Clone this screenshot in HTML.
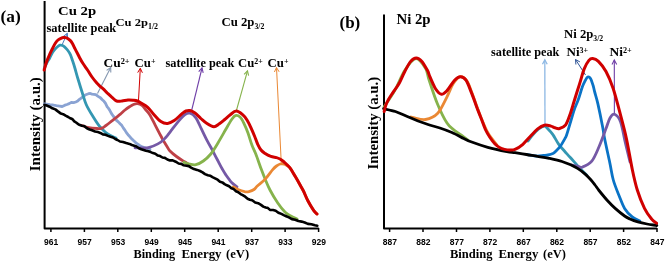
<!DOCTYPE html>
<html><head><meta charset="utf-8"><style>
html,body{margin:0;padding:0;background:#fff;width:668px;height:264px;overflow:hidden}
svg{display:block;filter:blur(0.45px)}
</style></head><body>
<svg width="668" height="264" viewBox="0 0 668 264">
<rect width="668" height="264" fill="#fff"/>
<text x="0.50" y="21.60" font-family='"Liberation Serif", serif' font-weight="bold" font-size="17" textLength="20.23" lengthAdjust="spacingAndGlyphs">(a)</text>
<text x="58.00" y="14.50" font-family='"Liberation Serif", serif' font-weight="bold" font-size="13.5" textLength="38.09" lengthAdjust="spacingAndGlyphs">Cu 2p</text>
<text x="46.50" y="31.60" font-family='"Liberation Serif", serif' font-weight="bold" font-size="12.8" textLength="69.65" lengthAdjust="spacingAndGlyphs">satellite peak</text>
<text x="115.50" y="26.30" font-family='"Liberation Serif", serif' font-weight="bold" font-size="11.3" textLength="42.59" lengthAdjust="spacingAndGlyphs">Cu 2p<tspan font-size="7.2" dy="3">1/2</tspan></text>
<text x="221.50" y="25.90" font-family='"Liberation Serif", serif' font-weight="bold" font-size="11.8" textLength="42.89" lengthAdjust="spacingAndGlyphs">Cu 2p<tspan font-size="7.2" dy="3">3/2</tspan></text>
<text x="103.50" y="66.50" font-family='"Liberation Serif", serif' font-weight="bold" font-size="12.2" textLength="26.12" lengthAdjust="spacingAndGlyphs">Cu<tspan font-size="7.6" dy="-3">2+</tspan></text>
<text x="134.50" y="66.50" font-family='"Liberation Serif", serif' font-weight="bold" font-size="12.2" textLength="20.92" lengthAdjust="spacingAndGlyphs">Cu<tspan font-size="7.6" dy="-3">+</tspan></text>
<text x="165.50" y="66.50" font-family='"Liberation Serif", serif' font-weight="bold" font-size="12.8" textLength="68.85" lengthAdjust="spacingAndGlyphs">satellite peak</text>
<text x="238.00" y="67.00" font-family='"Liberation Serif", serif' font-weight="bold" font-size="12.2" textLength="24.72" lengthAdjust="spacingAndGlyphs">Cu<tspan font-size="7.6" dy="-3">2+</tspan></text>
<text x="267.50" y="67.00" font-family='"Liberation Serif", serif' font-weight="bold" font-size="12.2" textLength="20.92" lengthAdjust="spacingAndGlyphs">Cu<tspan font-size="7.6" dy="-3">+</tspan></text>
<text x="133.50" y="258.00" font-family='"Liberation Serif", serif' font-weight="bold" font-size="12.6" textLength="41.72" lengthAdjust="spacingAndGlyphs">Binding</text>
<text x="181.50" y="258.00" font-family='"Liberation Serif", serif' font-weight="bold" font-size="12.6" textLength="39.99" lengthAdjust="spacingAndGlyphs">Energy</text>
<text x="226.00" y="258.00" font-family='"Liberation Serif", serif' font-weight="bold" font-size="12.6" textLength="23.08" lengthAdjust="spacingAndGlyphs">(eV)</text>
<text x="339.50" y="28.00" font-family='"Liberation Serif", serif' font-weight="bold" font-size="17" textLength="20.78" lengthAdjust="spacingAndGlyphs">(b)</text>
<text x="396.50" y="24.00" font-family='"Liberation Serif", serif' font-weight="bold" font-size="14" textLength="34.10" lengthAdjust="spacingAndGlyphs">Ni 2p</text>
<text x="491.00" y="55.90" font-family='"Liberation Serif", serif' font-weight="bold" font-size="12.2" textLength="68.45" lengthAdjust="spacingAndGlyphs">satellite peak</text>
<text x="564.00" y="38.10" font-family='"Liberation Serif", serif' font-weight="bold" font-size="11.8" textLength="39.21" lengthAdjust="spacingAndGlyphs">Ni 2p<tspan font-size="7.2" dy="3">3/2</tspan></text>
<text x="566.50" y="56.40" font-family='"Liberation Serif", serif' font-weight="bold" font-size="12.5" textLength="21.62" lengthAdjust="spacingAndGlyphs">Ni<tspan font-size="7.6" dy="-3">3+</tspan></text>
<text x="609.50" y="55.50" font-family='"Liberation Serif", serif' font-weight="bold" font-size="12.5" textLength="22.22" lengthAdjust="spacingAndGlyphs">Ni<tspan font-size="7.6" dy="-3">2+</tspan></text>
<text x="450.00" y="258.00" font-family='"Liberation Serif", serif' font-weight="bold" font-size="12.6" textLength="42.52" lengthAdjust="spacingAndGlyphs">Binding</text>
<text x="498.50" y="258.00" font-family='"Liberation Serif", serif' font-weight="bold" font-size="12.6" textLength="39.79" lengthAdjust="spacingAndGlyphs">Energy</text>
<text x="543.00" y="258.00" font-family='"Liberation Serif", serif' font-weight="bold" font-size="12.6" textLength="22.88" lengthAdjust="spacingAndGlyphs">(eV)</text>
<polyline points="44.6,1 44.6,228.5 318.8,228.5" fill="none" stroke="#000" stroke-width="2" stroke-linejoin="round"/>
<line x1="50.9" y1="228" x2="50.9" y2="232" stroke="#000" stroke-width="1.5"/>
<text x="51.2" y="245.1" font-family='"Liberation Sans", sans-serif' font-weight="bold" font-size="9.8" text-anchor="middle" textLength="14.2" lengthAdjust="spacingAndGlyphs">961</text>
<line x1="84.4" y1="228" x2="84.4" y2="232" stroke="#000" stroke-width="1.5"/>
<text x="84.7" y="245.1" font-family='"Liberation Sans", sans-serif' font-weight="bold" font-size="9.8" text-anchor="middle" textLength="14.2" lengthAdjust="spacingAndGlyphs">957</text>
<line x1="117.8" y1="228" x2="117.8" y2="232" stroke="#000" stroke-width="1.5"/>
<text x="118.1" y="245.1" font-family='"Liberation Sans", sans-serif' font-weight="bold" font-size="9.8" text-anchor="middle" textLength="14.2" lengthAdjust="spacingAndGlyphs">953</text>
<line x1="151.3" y1="228" x2="151.3" y2="232" stroke="#000" stroke-width="1.5"/>
<text x="151.6" y="245.1" font-family='"Liberation Sans", sans-serif' font-weight="bold" font-size="9.8" text-anchor="middle" textLength="14.2" lengthAdjust="spacingAndGlyphs">949</text>
<line x1="184.7" y1="228" x2="184.7" y2="232" stroke="#000" stroke-width="1.5"/>
<text x="185.0" y="245.1" font-family='"Liberation Sans", sans-serif' font-weight="bold" font-size="9.8" text-anchor="middle" textLength="14.2" lengthAdjust="spacingAndGlyphs">945</text>
<line x1="218.2" y1="228" x2="218.2" y2="232" stroke="#000" stroke-width="1.5"/>
<text x="218.5" y="245.1" font-family='"Liberation Sans", sans-serif' font-weight="bold" font-size="9.8" text-anchor="middle" textLength="14.2" lengthAdjust="spacingAndGlyphs">941</text>
<line x1="251.7" y1="228" x2="251.7" y2="232" stroke="#000" stroke-width="1.5"/>
<text x="252.0" y="245.1" font-family='"Liberation Sans", sans-serif' font-weight="bold" font-size="9.8" text-anchor="middle" textLength="14.2" lengthAdjust="spacingAndGlyphs">937</text>
<line x1="285.1" y1="228" x2="285.1" y2="232" stroke="#000" stroke-width="1.5"/>
<text x="285.4" y="245.1" font-family='"Liberation Sans", sans-serif' font-weight="bold" font-size="9.8" text-anchor="middle" textLength="14.2" lengthAdjust="spacingAndGlyphs">933</text>
<line x1="318.6" y1="228" x2="318.6" y2="232" stroke="#000" stroke-width="1.5"/>
<text x="318.9" y="245.1" font-family='"Liberation Sans", sans-serif' font-weight="bold" font-size="9.8" text-anchor="middle" textLength="14.2" lengthAdjust="spacingAndGlyphs">929</text>
<line x1="62.0" y1="45.0" x2="67.3" y2="33.3" stroke="#4A7CC0" stroke-width="1.0"/>
<polyline points="67.6,38.3 67.3,33.3 63.3,36.4" fill="none" stroke="#4A7CC0" stroke-width="1.0"/>
<line x1="97.5" y1="93.5" x2="110.7" y2="67.5" stroke="#8497B0" stroke-width="1.1"/>
<polyline points="110.8,72.5 110.7,67.5 106.6,70.4" fill="none" stroke="#8497B0" stroke-width="1.1"/>
<line x1="138.5" y1="100.4" x2="140.3" y2="68.3" stroke="#D00000" stroke-width="1.0"/>
<polyline points="142.4,72.8 140.3,68.3 137.7,72.6" fill="none" stroke="#D00000" stroke-width="1.0"/>
<line x1="191.4" y1="111.5" x2="202.0" y2="68.0" stroke="#7040A8" stroke-width="1.1"/>
<polyline points="203.2,72.8 202.0,68.0 198.7,71.7" fill="none" stroke="#7040A8" stroke-width="1.1"/>
<line x1="236.0" y1="112.0" x2="247.5" y2="70.8" stroke="#86B34C" stroke-width="1.1"/>
<polyline points="248.6,75.7 247.5,70.8 244.1,74.4" fill="none" stroke="#86B34C" stroke-width="1.1"/>
<line x1="281.3" y1="163.5" x2="276.5" y2="67.5" stroke="#EA8834" stroke-width="1.0"/>
<polyline points="279.1,71.8 276.5,67.5 274.4,72.0" fill="none" stroke="#EA8834" stroke-width="1.0"/>
<path d="M44.5,103.8 L46.7,104.1 L49.9,104.6 L53.1,105.0 L56.3,105.7 L59.5,106.1 L62.2,106.5 L64.9,105.2 L67.0,104.5 L69.2,103.6 L71.3,102.4 L73.6,102.6 L75.8,102.0 L77.7,101.1 L79.5,99.3 L81.2,98.1 L83.1,96.7 L85.8,94.7 L88.5,93.7 L90.3,93.5 L92.0,94.1 L93.8,94.3 L95.8,94.6 L98.1,96.4 L100.4,97.7 L102.3,99.8 L104.0,101.3 L105.4,103.2 L107.2,106.8 L108.4,108.2 L109.9,110.6 L111.5,113.6 L113.2,116.0 L114.7,117.8 L116.5,120.4 L118.3,121.9 L120.1,123.8 L121.9,125.6 L123.4,128.1 L124.9,130.1 L126.4,132.6 L128.0,134.7 L129.5,136.3 L131.4,138.5 L133.2,140.3 L135.1,142.1 L137.0,143.6 L139.6,145.4 L142.2,146.9 L144.6,147.6 L147.8,149.1 L150.0,149.5" fill="none" stroke="#8AA3D3" stroke-width="2.8" stroke-linejoin="round" stroke-linecap="round"/>
<path d="M44.2,68.5 C44.6,67.7 45.6,65.2 46.5,63.5 C47.4,61.8 48.6,60.0 49.6,58.2 C50.6,56.4 51.5,54.0 52.5,52.5 C53.5,51.0 54.4,49.9 55.3,48.9 C56.2,47.9 57.0,47.1 57.8,46.5 C58.6,45.9 59.2,45.4 60.0,45.2 C60.8,45.0 61.7,45.2 62.5,45.5 C63.3,45.8 63.9,46.2 64.7,47.0 C65.5,47.8 66.5,48.7 67.5,50.0 C68.5,51.3 69.6,52.9 70.4,54.6 C71.2,56.4 71.7,58.2 72.5,60.5 C73.3,62.8 74.1,65.4 75.0,68.5 C75.9,71.6 76.8,75.0 78.0,79.0 C79.2,83.0 80.8,88.2 82.2,92.5 C83.6,96.8 84.4,100.4 86.2,104.5 C88.0,108.6 91.1,113.5 93.3,117.1 C95.5,120.7 97.4,123.7 99.4,126.2 C101.4,128.7 103.7,130.8 105.5,132.3 C107.3,133.8 108.2,134.4 110.0,135.3 C111.8,136.2 115.0,137.6 116.0,138.0" fill="none" stroke="#3497B2" stroke-width="2.8" stroke-linejoin="round" stroke-linecap="round"/>
<path d="M82.0,125.5 C83.1,125.9 86.3,127.2 88.8,127.7 C91.3,128.2 94.9,128.4 97.0,128.5 C99.1,128.6 100.0,128.8 101.5,128.3 C103.0,127.8 104.4,126.6 106.0,125.5 C107.6,124.4 109.3,123.0 110.9,121.7 C112.5,120.5 113.9,119.3 115.5,118.0 C117.1,116.7 118.8,115.4 120.4,114.1 C122.0,112.8 123.4,111.3 125.0,110.0 C126.6,108.7 128.5,107.4 129.9,106.5 C131.3,105.6 132.2,105.0 133.5,104.5 C134.8,104.0 136.1,103.5 137.5,103.7 C138.9,103.9 140.7,104.5 142.0,105.5 C143.3,106.5 144.2,108.0 145.5,109.5 C146.8,111.0 148.0,111.9 149.6,114.5 C151.2,117.1 153.4,121.7 155.3,125.3 C157.2,128.9 159.6,133.6 160.9,136.0 C162.2,138.4 161.9,138.2 163.0,140.0 C164.1,141.8 166.1,145.2 167.3,147.0 C168.5,148.8 168.5,149.4 170.0,151.0 C171.5,152.6 174.2,154.8 176.5,156.5 C178.8,158.2 181.8,160.1 184.0,161.5 C186.2,162.9 189.0,164.4 190.0,165.0" fill="none" stroke="#BE4046" stroke-width="2.8" stroke-linejoin="round" stroke-linecap="round"/>
<path d="M135.0,147.8 C136.0,147.8 138.6,147.9 140.8,147.9 C143.0,147.9 145.6,148.4 148.4,147.7 C151.2,147.0 155.2,145.4 157.9,143.9 C160.6,142.4 162.3,141.1 164.7,138.6 C167.1,136.1 169.8,132.3 172.3,129.1 C174.8,125.9 177.8,122.0 179.9,119.6 C182.0,117.2 183.3,115.6 185.0,114.5 C186.7,113.4 188.2,112.7 190.0,113.2 C191.8,113.7 193.8,115.0 195.7,117.6 C197.6,120.2 199.5,125.1 201.4,128.9 C203.3,132.7 205.1,136.7 207.0,140.3 C208.9,143.9 210.9,147.4 212.7,150.7 C214.4,154.0 215.9,157.0 217.5,160.0 C219.1,163.0 220.6,166.1 222.0,168.5 C223.4,170.9 224.1,172.3 225.7,174.6 C227.3,176.9 229.5,180.1 231.4,182.2 C233.3,184.2 236.1,186.1 237.0,186.9" fill="none" stroke="#7559A6" stroke-width="2.8" stroke-linejoin="round" stroke-linecap="round"/>
<path d="M184.0,162.3 C185.0,162.6 188.0,163.8 190.0,164.2 C192.0,164.6 193.7,165.2 195.9,164.7 C198.1,164.2 200.8,162.8 203.3,161.0 C205.8,159.2 208.3,157.1 210.8,154.0 C213.3,150.9 215.9,146.4 218.4,142.2 C220.9,138.0 223.8,132.8 226.0,129.0 C228.2,125.2 230.1,121.7 231.7,119.5 C233.3,117.3 234.0,116.0 235.4,115.6 C236.8,115.2 238.6,115.8 240.0,117.0 C241.4,118.2 242.5,120.4 243.8,123.1 C245.1,125.8 246.7,129.3 248.0,133.0 C249.3,136.7 250.6,141.5 251.9,145.0 C253.2,148.5 254.2,149.9 255.8,154.0 C257.4,158.1 259.8,165.3 261.4,169.6 C263.0,173.9 264.1,176.6 265.5,180.0 C266.9,183.4 268.0,186.2 270.0,190.0 C272.0,193.8 275.1,199.0 277.6,202.7 C280.1,206.4 283.0,210.0 285.2,212.2 C287.4,214.4 288.8,214.9 290.8,216.0 C292.8,217.1 296.0,218.5 297.0,219.0" fill="none" stroke="#86B34C" stroke-width="2.8" stroke-linejoin="round" stroke-linecap="round"/>
<path d="M233.3,186.9 C234.1,187.3 236.1,188.7 238.0,189.5 C239.9,190.3 242.8,191.3 244.6,191.7 C246.4,192.0 247.4,192.0 249.0,191.6 C250.6,191.2 252.6,190.5 254.0,189.5 C255.4,188.5 255.7,187.4 257.6,185.7 C259.5,184.0 262.7,181.8 265.2,179.1 C267.7,176.4 270.8,171.8 272.7,169.6 C274.6,167.4 275.2,166.9 276.5,166.0 C277.8,165.1 279.0,164.3 280.3,164.0 C281.6,163.7 283.0,163.8 284.1,164.0 C285.2,164.2 286.1,164.9 287.0,165.5 C287.9,166.1 288.5,165.9 289.8,167.7 C291.1,169.4 293.3,173.2 295.0,176.0 C296.7,178.8 298.6,182.2 300.0,184.8 C301.4,187.4 302.4,188.8 303.7,191.5 C305.0,194.2 306.2,197.7 307.9,200.8 C309.5,203.9 312.1,208.1 313.6,210.3 C315.1,212.5 316.4,213.4 317.0,214.0" fill="none" stroke="#EA8834" stroke-width="2.8" stroke-linejoin="round" stroke-linecap="round"/>
<path d="M44.5,104.8 L46.7,105.5 L49.6,106.7 L52.4,108.3 L55.3,109.4 L57.9,111.4 L60.9,113.6 L63.1,114.2 L65.6,115.7 L68.2,117.0 L70.4,118.3 L72.6,119.3 L74.3,121.3 L76.1,122.5 L78.7,124.6 L81.8,125.7 L84.1,126.0 L86.9,128.3 L89.6,129.5 L92.0,130.2 L95.1,131.5 L97.9,132.1 L100.3,132.9 L102.9,134.4 L105.5,134.8 L108.0,135.9 L110.5,136.8 L113.0,137.5 L115.3,139.0 L117.5,140.0 L120.0,141.5 L123.0,142.0 L126.2,143.1 L129.5,143.9 L131.9,145.0 L134.2,145.7 L136.5,146.5 L138.9,148.2 L141.3,149.2 L143.6,150.0 L146.0,150.8 L148.4,151.3 L150.7,152.1 L153.0,153.1 L155.3,153.8 L157.9,155.6 L160.1,156.1 L162.5,157.5 L164.9,157.9 L167.4,159.5 L170.0,160.4 L172.7,160.4 L175.7,161.7 L178.6,163.5 L181.3,163.9 L183.7,165.3 L186.6,165.7 L188.8,166.1 L191.1,167.6 L194.0,169.1 L197.1,169.9 L200.0,171.0 L202.6,172.4 L205.0,174.1 L207.9,175.3 L210.1,175.7 L212.5,177.1 L215.0,178.3 L217.6,179.7 L220.0,181.8 L222.3,182.4 L224.6,184.1 L226.9,185.3 L229.1,186.3 L231.4,188.3 L233.7,189.1 L236.0,191.2 L238.3,192.2 L240.6,194.1 L242.7,195.2 L245.2,196.7 L247.6,198.7 L249.9,199.7 L252.2,200.3 L255.2,202.5 L258.1,203.2 L261.0,204.9 L263.3,206.6 L265.7,207.5 L268.0,208.1 L270.0,209.9 L273.1,210.0 L275.7,210.7 L278.4,212.7 L281.4,213.9 L283.7,215.1 L286.2,216.2 L288.9,217.4 L291.9,219.1 L295.2,219.7 L298.4,221.0 L301.6,221.6 L304.7,222.5 L307.9,223.9 L311.4,224.3 L314.9,225.3 L317.3,225.8" fill="none" stroke="#000" stroke-width="2.6" stroke-linejoin="round" stroke-linecap="round"/>
<path d="M44.2,70.0 C44.6,68.7 45.6,64.6 46.5,62.0 C47.4,59.4 48.6,56.9 49.6,54.6 C50.6,52.4 51.5,50.4 52.5,48.5 C53.5,46.6 54.4,44.7 55.3,43.3 C56.2,41.9 57.1,40.8 58.0,40.0 C58.9,39.2 60.0,38.7 60.9,38.3 C61.8,37.9 62.5,37.6 63.5,37.5 C64.5,37.4 65.4,37.3 66.6,37.8 C67.8,38.3 69.4,39.6 70.4,40.6 C71.4,41.6 71.9,42.6 72.7,44.0 C73.5,45.4 74.3,47.3 75.1,48.9 C75.9,50.5 76.7,52.0 77.5,53.5 C78.3,55.0 79.0,56.5 79.9,58.2 C80.8,59.9 81.7,61.5 83.0,63.5 C84.3,65.5 86.0,67.8 87.5,70.0 C89.0,72.2 90.5,74.9 92.0,77.0 C93.5,79.1 95.3,81.3 96.6,82.8 C97.9,84.3 98.4,84.7 99.6,85.8 C100.8,86.9 102.2,88.0 103.5,89.2 C104.8,90.4 105.8,91.7 107.2,93.0 C108.6,94.3 110.4,96.0 112.0,97.3 C113.6,98.6 114.9,100.4 116.6,101.0 C118.3,101.6 120.1,101.2 122.0,101.0 C123.9,100.8 126.2,100.1 128.0,100.0 C129.8,99.9 131.4,100.0 133.0,100.2 C134.6,100.4 136.0,100.5 137.5,101.0 C139.0,101.5 140.3,102.5 142.0,103.5 C143.7,104.5 145.8,105.6 147.7,107.3 C149.6,109.0 151.2,111.5 153.4,113.9 C155.6,116.3 158.5,119.9 160.9,121.5 C163.3,123.1 165.4,123.6 167.6,123.4 C169.8,123.2 171.8,122.2 174.2,120.6 C176.6,119.0 179.8,115.5 181.8,113.9 C183.8,112.3 184.6,111.6 186.0,111.0 C187.4,110.4 188.5,110.2 190.0,110.5 C191.5,110.8 193.2,111.7 195.0,113.0 C196.8,114.3 198.7,116.5 200.7,118.3 C202.7,120.0 204.8,122.1 207.0,123.5 C209.2,124.9 211.9,126.6 213.9,126.7 C215.9,126.8 217.2,125.2 219.0,124.0 C220.8,122.8 222.9,121.0 224.7,119.5 C226.5,118.0 228.1,116.4 230.0,115.0 C231.9,113.6 234.1,111.1 236.2,111.1 C238.3,111.0 240.8,113.2 242.6,114.7 C244.4,116.2 245.6,117.8 247.0,120.0 C248.4,122.2 249.8,125.2 251.0,127.9 C252.2,130.6 253.4,133.3 254.5,136.0 C255.6,138.7 256.5,141.7 257.6,144.0 C258.7,146.3 259.7,148.4 261.0,150.0 C262.3,151.6 263.6,152.4 265.2,153.5 C266.8,154.6 268.9,155.7 270.8,156.4 C272.7,157.1 275.0,157.2 276.5,157.6 C278.0,158.0 278.7,158.3 280.0,159.0 C281.3,159.7 282.5,160.6 284.1,162.0 C285.7,163.4 288.0,165.4 289.8,167.7 C291.6,170.0 293.3,173.2 295.0,176.0 C296.7,178.8 298.6,182.2 300.0,184.8 C301.4,187.4 302.4,188.8 303.7,191.5 C305.0,194.2 306.2,197.7 307.9,200.8 C309.5,203.9 312.1,208.1 313.6,210.3 C315.1,212.5 316.4,213.4 317.0,214.0" fill="none" stroke="#D00000" stroke-width="3.0" stroke-linejoin="round" stroke-linecap="round"/>
<text transform="translate(39.8,171.3) rotate(-90)" font-family='"Liberation Serif", serif' font-weight="bold" font-size="15.5" textLength="94.2" lengthAdjust="spacingAndGlyphs">Intensity (a.u.)</text>
<polyline points="384,14.4 384,228.6 657,228.6" fill="none" stroke="#000" stroke-width="2" stroke-linejoin="round"/>
<line x1="389.6" y1="228" x2="389.6" y2="232" stroke="#000" stroke-width="1.5"/>
<text x="389.9" y="245.1" font-family='"Liberation Sans", sans-serif' font-weight="bold" font-size="9.8" text-anchor="middle" textLength="14.2" lengthAdjust="spacingAndGlyphs">887</text>
<line x1="423.0" y1="228" x2="423.0" y2="232" stroke="#000" stroke-width="1.5"/>
<text x="423.3" y="245.1" font-family='"Liberation Sans", sans-serif' font-weight="bold" font-size="9.8" text-anchor="middle" textLength="14.2" lengthAdjust="spacingAndGlyphs">882</text>
<line x1="456.5" y1="228" x2="456.5" y2="232" stroke="#000" stroke-width="1.5"/>
<text x="456.8" y="245.1" font-family='"Liberation Sans", sans-serif' font-weight="bold" font-size="9.8" text-anchor="middle" textLength="14.2" lengthAdjust="spacingAndGlyphs">877</text>
<line x1="489.9" y1="228" x2="489.9" y2="232" stroke="#000" stroke-width="1.5"/>
<text x="490.2" y="245.1" font-family='"Liberation Sans", sans-serif' font-weight="bold" font-size="9.8" text-anchor="middle" textLength="14.2" lengthAdjust="spacingAndGlyphs">872</text>
<line x1="523.3" y1="228" x2="523.3" y2="232" stroke="#000" stroke-width="1.5"/>
<text x="523.6" y="245.1" font-family='"Liberation Sans", sans-serif' font-weight="bold" font-size="9.8" text-anchor="middle" textLength="14.2" lengthAdjust="spacingAndGlyphs">867</text>
<line x1="556.8" y1="228" x2="556.8" y2="232" stroke="#000" stroke-width="1.5"/>
<text x="557.0" y="245.1" font-family='"Liberation Sans", sans-serif' font-weight="bold" font-size="9.8" text-anchor="middle" textLength="14.2" lengthAdjust="spacingAndGlyphs">862</text>
<line x1="590.2" y1="228" x2="590.2" y2="232" stroke="#000" stroke-width="1.5"/>
<text x="590.5" y="245.1" font-family='"Liberation Sans", sans-serif' font-weight="bold" font-size="9.8" text-anchor="middle" textLength="14.2" lengthAdjust="spacingAndGlyphs">857</text>
<line x1="623.6" y1="228" x2="623.6" y2="232" stroke="#000" stroke-width="1.5"/>
<text x="623.9" y="245.1" font-family='"Liberation Sans", sans-serif' font-weight="bold" font-size="9.8" text-anchor="middle" textLength="14.2" lengthAdjust="spacingAndGlyphs">852</text>
<line x1="657.0" y1="228" x2="657.0" y2="232" stroke="#000" stroke-width="1.5"/>
<text x="657.3" y="245.1" font-family='"Liberation Sans", sans-serif' font-weight="bold" font-size="9.8" text-anchor="middle" textLength="14.2" lengthAdjust="spacingAndGlyphs">847</text>
<line x1="545.0" y1="124.3" x2="544.8" y2="59.8" stroke="#8DB8E4" stroke-width="1.3"/>
<polyline points="547.2,64.2 544.8,59.8 542.5,64.2" fill="none" stroke="#8DB8E4" stroke-width="1.3"/>
<line x1="585.5" y1="75.0" x2="575.5" y2="59.5" stroke="#2F5597" stroke-width="1.0"/>
<polyline points="579.9,61.9 575.5,59.5 575.9,64.5" fill="none" stroke="#2F5597" stroke-width="1.0"/>
<line x1="614.4" y1="114.3" x2="614.3" y2="60.0" stroke="#7040A8" stroke-width="1.1"/>
<polyline points="616.7,64.4 614.3,60.0 612.0,64.4" fill="none" stroke="#7040A8" stroke-width="1.1"/>
<path d="M384.0,107.0 C385.8,104.2 391.5,96.2 395.0,90.0 C398.5,83.8 401.5,75.2 405.0,70.0 C408.5,64.8 412.5,59.0 415.9,58.7 C419.3,58.4 423.3,64.8 425.5,68.3 C427.7,71.8 427.1,74.0 429.1,80.0 C431.1,86.0 434.5,96.8 437.5,104.0 C440.5,111.2 444.2,118.8 447.0,123.1 C449.8,127.4 451.6,128.0 454.0,130.0 C456.4,132.0 459.1,133.4 461.4,135.1 C463.7,136.8 466.9,139.2 468.0,140.0" fill="none" stroke="#86B34C" stroke-width="2.8" stroke-linejoin="round" stroke-linecap="round"/>
<path d="M411.0,117.0 C411.4,117.1 411.1,117.2 413.5,117.6 C415.9,118.0 421.5,120.2 425.5,119.5 C429.5,118.8 433.9,117.3 437.5,113.5 C441.1,109.7 444.4,101.7 447.0,96.8 C449.6,91.9 450.8,87.3 453.0,84.0 C455.2,80.7 457.9,77.2 460.2,76.7 C462.5,76.2 465.0,78.3 467.0,81.0 C469.0,83.7 469.8,87.3 472.0,93.0 C474.2,98.7 477.3,108.3 480.0,115.0 C482.7,121.7 485.2,128.0 488.0,133.0 C490.8,138.0 495.5,143.0 497.0,145.0" fill="none" stroke="#EA8834" stroke-width="2.8" stroke-linejoin="round" stroke-linecap="round"/>
<path d="M528.0,141.0 C528.8,139.9 531.3,136.4 533.0,134.5 C534.7,132.6 536.1,130.9 538.0,129.5 C539.9,128.1 542.6,126.1 544.4,126.1 C546.1,126.1 547.1,128.1 548.5,129.5 C549.9,130.9 551.2,132.2 552.9,134.6 C554.6,137.0 556.6,141.2 558.6,144.1 C560.6,146.9 563.0,149.5 565.0,151.7 C567.0,153.9 567.8,154.7 570.3,157.5 C572.8,160.3 577.1,165.3 579.9,168.3 C582.7,171.3 585.8,174.3 587.0,175.5" fill="none" stroke="#3497B2" stroke-width="2.8" stroke-linejoin="round" stroke-linecap="round"/>
<path d="M527.0,154.5 C528.5,154.8 533.3,155.8 536.0,156.0 C538.7,156.2 541.4,155.7 543.4,155.5 C545.4,155.3 546.4,155.3 548.0,155.0 C549.6,154.7 551.5,154.3 552.9,153.6 C554.3,152.8 555.2,151.8 556.5,150.5 C557.8,149.2 559.1,148.0 560.5,146.0 C561.9,144.0 564.0,140.2 565.0,138.4 C566.0,136.6 565.5,138.2 566.6,135.0 C567.7,131.8 570.1,123.4 571.4,119.1 C572.7,114.8 573.3,112.3 574.5,109.0 C575.7,105.7 577.2,102.7 578.5,99.0 C579.8,95.3 581.2,90.0 582.3,87.0 C583.4,84.0 584.1,82.7 585.0,81.0 C585.9,79.3 586.7,77.4 587.6,77.0 C588.5,76.6 589.6,77.1 590.5,78.5 C591.4,79.9 592.4,83.3 593.1,85.5 C593.8,87.7 593.8,88.6 594.6,91.7 C595.4,94.8 596.6,98.1 597.9,103.9 C599.2,109.7 601.5,121.0 602.6,126.7 C603.7,132.4 603.3,132.0 604.5,138.0 C605.7,144.0 608.3,155.7 609.8,162.7 C611.3,169.7 611.8,174.6 613.3,180.0 C614.8,185.4 617.0,190.5 618.9,195.2 C620.8,199.9 622.4,204.8 624.6,208.4 C626.8,212.0 629.7,214.8 632.2,216.9 C634.7,219.0 638.5,220.3 639.8,221.0" fill="none" stroke="#0A73C6" stroke-width="2.8" stroke-linejoin="round" stroke-linecap="round"/>
<path d="M572.0,165.0 C572.9,165.2 575.8,165.8 577.5,166.2 C579.2,166.5 579.9,167.9 582.3,167.1 C584.7,166.2 589.0,164.5 591.8,161.1 C594.6,157.7 596.6,152.3 599.0,146.8 C601.4,141.3 604.4,132.8 606.2,128.0 C608.0,123.2 608.6,120.3 610.0,118.0 C611.4,115.7 612.8,113.6 614.6,114.3 C616.4,115.0 618.8,117.1 620.6,121.9 C622.4,126.7 623.8,136.3 625.4,143.0 C627.0,149.7 629.2,158.8 630.0,162.0" fill="none" stroke="#7559A6" stroke-width="2.8" stroke-linejoin="round" stroke-linecap="round"/>
<path d="M383.6,108.7 C385.6,109.2 391.5,110.2 395.4,111.5 C399.2,112.8 402.9,114.7 406.7,116.3 C410.5,117.9 414.6,119.6 418.1,121.0 C421.7,122.4 424.4,123.3 428.0,124.5 C431.6,125.7 435.9,126.7 439.9,128.0 C443.9,129.3 447.9,130.8 451.9,132.5 C455.9,134.2 460.6,136.9 463.8,138.5 C467.0,140.1 467.0,140.3 471.0,141.8 C475.0,143.3 481.8,145.7 487.8,147.3 C493.8,148.9 502.4,150.7 506.9,151.6 C511.4,152.5 511.8,152.1 515.0,152.6 C518.2,153.1 522.6,153.9 526.4,154.5 C530.2,155.1 533.9,155.8 537.7,156.4 C541.5,157.0 545.1,157.5 549.1,158.3 C553.1,159.2 558.5,160.4 562.0,161.5 C565.5,162.6 567.4,163.4 570.0,164.6 C572.6,165.8 575.1,166.8 577.6,168.4 C580.1,170.0 583.0,172.2 585.2,174.1 C587.4,176.0 589.2,178.0 590.8,179.8 C592.4,181.6 593.6,183.2 595.0,185.0 C596.4,186.8 596.9,187.9 599.0,190.5 C601.1,193.1 604.9,197.8 607.6,200.8 C610.3,203.8 612.4,205.9 615.2,208.4 C618.0,210.9 622.1,214.2 624.6,216.0 C627.1,217.8 627.8,218.0 630.0,219.0 C632.2,220.0 635.1,221.1 637.9,221.9 C640.7,222.7 643.9,223.4 647.0,224.0 C650.1,224.6 655.2,225.2 656.8,225.5" fill="none" stroke="#000" stroke-width="2.8" stroke-linejoin="round" stroke-linecap="round"/>
<path d="M384.2,111.5 C384.5,110.4 385.2,106.9 385.9,104.9 C386.6,102.9 387.6,101.2 388.5,99.5 C389.4,97.8 390.5,96.2 391.6,94.5 C392.7,92.8 393.7,91.4 395.0,89.5 C396.3,87.6 397.6,86.3 399.2,83.3 C400.8,80.3 402.9,75.1 404.8,71.5 C406.7,67.9 408.6,63.9 410.5,61.6 C412.4,59.4 414.3,58.0 416.2,58.0 C418.1,58.0 420.0,59.3 421.9,61.4 C423.8,63.5 426.2,68.2 427.6,70.8 C429.0,73.4 428.6,74.0 430.0,77.0 C431.4,80.0 433.8,86.1 435.7,89.0 C437.6,91.9 439.5,93.9 441.4,94.2 C443.3,94.5 444.8,92.9 447.0,90.6 C449.2,88.3 452.4,82.5 454.6,80.2 C456.8,77.9 458.4,76.7 460.3,76.7 C462.2,76.7 464.1,77.4 466.0,80.2 C467.9,83.0 469.8,88.7 471.7,93.4 C473.6,98.1 475.8,104.5 477.3,108.6 C478.9,112.7 479.6,114.5 481.0,118.0 C482.4,121.5 483.9,126.2 485.4,129.5 C486.9,132.8 488.4,135.1 490.0,137.5 C491.6,139.9 493.3,142.3 495.0,144.0 C496.7,145.7 498.4,146.9 500.0,147.8 C501.6,148.7 502.9,149.0 504.6,149.4 C506.3,149.8 508.3,150.0 510.0,150.0 C511.7,150.0 512.9,150.3 515.0,149.4 C517.1,148.5 520.1,146.8 522.6,144.6 C525.1,142.4 527.7,139.1 530.2,136.5 C532.7,133.9 535.3,130.8 537.7,128.9 C540.1,127.0 542.2,125.7 544.4,125.2 C546.6,124.7 549.2,125.7 551.0,126.1 C552.8,126.5 553.6,127.4 555.0,127.8 C556.4,128.2 557.7,129.0 559.5,128.5 C561.3,128.0 563.9,127.3 565.7,124.8 C567.5,122.3 569.0,117.4 570.4,113.4 C571.8,109.4 572.7,105.9 574.2,101.0 C575.7,96.1 577.8,89.4 579.5,84.1 C581.2,78.8 582.6,72.9 584.2,68.9 C585.8,65.0 587.5,62.1 588.9,60.4 C590.3,58.7 591.1,58.3 592.7,58.5 C594.3,58.7 596.2,59.2 598.4,61.4 C600.6,63.6 603.6,67.1 606.0,71.5 C608.4,75.9 610.6,80.9 613.0,88.0 C615.4,95.1 618.1,105.8 620.3,114.2 C622.5,122.6 624.4,129.2 626.4,138.5 C628.4,147.8 630.6,161.4 632.4,170.0 C634.2,178.6 635.3,183.6 637.3,190.0 C639.3,196.4 642.1,203.5 644.5,208.3 C646.9,213.2 649.7,216.6 651.7,219.1 C653.7,221.6 655.7,222.5 656.5,223.2" fill="none" stroke="#D00000" stroke-width="3.0" stroke-linejoin="round" stroke-linecap="round"/>
<text transform="translate(378.4,169.4) rotate(-90)" font-family='"Liberation Serif", serif' font-weight="bold" font-size="15" textLength="92.6" lengthAdjust="spacingAndGlyphs">Intensity (a.u.)</text>
</svg>
</body></html>
